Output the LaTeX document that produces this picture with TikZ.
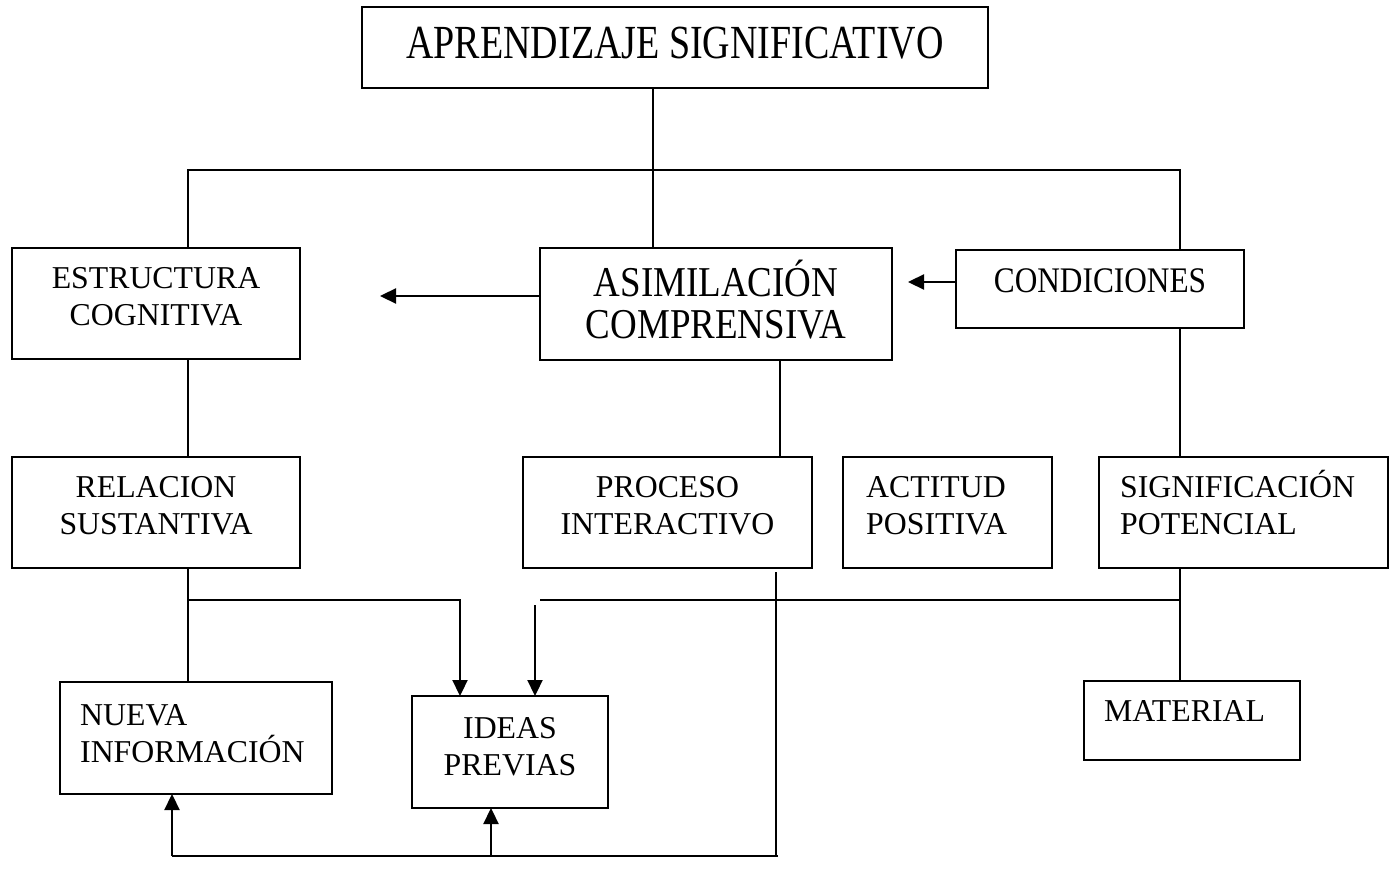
\documentclass[tikz,border=0pt]{standalone}
\usepackage{fontspec}
\setmainfont{Liberation Serif}
\newfontfamily\titlefont[FakeStretch=0.8]{Liberation Serif}
\newfontfamily\midfont[FakeStretch=0.87]{Liberation Serif}
\usetikzlibrary{arrows.meta,positioning}

\tikzset{
  box/.style={draw, line width=2.3pt, inner sep=0pt, outer sep=0pt},
  lbl/.style={inner sep=0pt, align=center, font=\fontsize{31.8}{37}\selectfont},
  lbll/.style={lbl, align=left},
  conn/.style={line width=2.3pt},
  arr/.style={conn, -{Triangle[length=16pt,width=15pt]}}
}

\begin{document}
\begin{tikzpicture}[x=1pt,y=-1pt]
\useasboundingbox (0,0) rectangle (1395,890);

% cajas
\node[box, minimum width=626pt, minimum height=81pt] (titulo) at (675,47.5) {};
\node[box, minimum width=288pt, minimum height=111pt] (estr) at (156,303.5) {};
\node[box, minimum width=352pt, minimum height=112pt] (asim) at (716,304) {};
\node[box, minimum width=288pt, minimum height=78pt] (cond) at (1100,289) {};
\node[box, minimum width=288pt, minimum height=111pt] (rel) at (156,512.5) {};
\node[box, minimum width=289pt, minimum height=111pt] (proc) at (667.5,512.5) {};
\node[box, minimum width=209pt, minimum height=111pt] (act) at (947.5,512.5) {};
\node[box, minimum width=289pt, minimum height=111pt] (sig) at (1243.5,512.5) {};
\node[box, minimum width=272pt, minimum height=112pt] (nueva) at (196,738) {};
\node[box, minimum width=196pt, minimum height=112pt] (ideas) at (510,752) {};
\node[box, minimum width=216pt, minimum height=79pt] (mat) at (1192,720.5) {};

% textos
\node[lbl, font=\titlefont\fontsize{47.5}{47}\selectfont, below=20pt of titulo.north] (titulo-t) {APRENDIZAJE SIGNIFICATIVO};
\node[lbl, below=19.5pt of estr.north] (estr-t) {ESTRUCTURA\\COGNITIVA};
\node[lbl, font=\midfont\fontsize{42.5}{42}\selectfont, below=12pt of asim.north] (asim-t) {ASIMILACIÓN\\COMPRENSIVA};
\node[lbl, font=\midfont\fontsize{36}{36}\selectfont, below=18pt of cond.north] (cond-t) {CONDICIONES};
\node[lbl, below=19.5pt of rel.north] (rel-t) {RELACION\\SUSTANTIVA};
\node[lbl, below=19.5pt of proc.north] (proc-t) {PROCESO\\INTERACTIVO};
\node[lbll, anchor=north west] (act-t) at ([xshift=23pt,yshift=-19.5pt]act.north west) {ACTITUD\\POSITIVA};
\node[lbll, anchor=north west] (sig-t) at ([xshift=21pt,yshift=-13pt]sig.north west) {SIGNIFICACIÓN\\POTENCIAL};
\node[lbll, anchor=north west] (nueva-t) at ([xshift=20pt,yshift=-22.5pt]nueva.north west) {NUEVA\\INFORMACIÓN};
\node[lbl, below=21.5pt of ideas.north] (ideas-t) {IDEAS\\PREVIAS};
\node[lbll, anchor=north west] (mat-t) at ([xshift=20pt,yshift=-19.5pt]mat.north west) {MATERIAL};

% puntos de union
\coordinate (jA) at (653,170);
\coordinate (jL) at (188,170);
\coordinate (jR) at (1180,170);
\coordinate (asimtip) at (380,296);
\coordinate (condtip) at (908,282);
\coordinate (jrel) at (188,600);
\coordinate (jsig) at (1180,600);
\coordinate (jend) at (540,600);
\coordinate (jtop) at (535,605);
\coordinate (jproc) at (776,572);
\coordinate (jbot) at (776,856);
\coordinate (jbotL) at (172,856);
\coordinate (jbotI) at (491,856);

% conectores
\draw[conn] (titulo.south -| jA) -- (asim.north -| jA);
\draw[conn] (estr.north -| jL) -- (jL) -- (jR) -- (cond.north -| jR);
\draw[arr] (asim.west |- asimtip) -- (asimtip);
\draw[arr] (cond.west |- condtip) -- (condtip);
\draw[conn] (estr.south -| jL) -- (rel.north -| jL);
\draw[conn] (asim.south -| 780,0) -- (proc.north -| 780,0);
\draw[conn] (cond.south -| jR) -- (sig.north -| jR);
\draw[conn] (rel.south -| jrel) -- (nueva.north -| jrel);
\draw[arr] (jrel) -- (460,600) -- (ideas.north -| 460,0);
\draw[conn] (sig.south -| jsig) -- (mat.north -| jsig);
\draw[conn] (jsig) -- (jend);
\draw[arr] (jtop) -- (ideas.north -| jtop);
\draw[conn] (jproc) -- (jbot);
\draw[conn] ([xshift=2pt]jbot) -- (jbotL);
\draw[arr] (jbotL) -- (nueva.south -| jbotL);
\draw[arr] (jbotI) -- (ideas.south -| jbotI);
\end{tikzpicture}
\end{document}
